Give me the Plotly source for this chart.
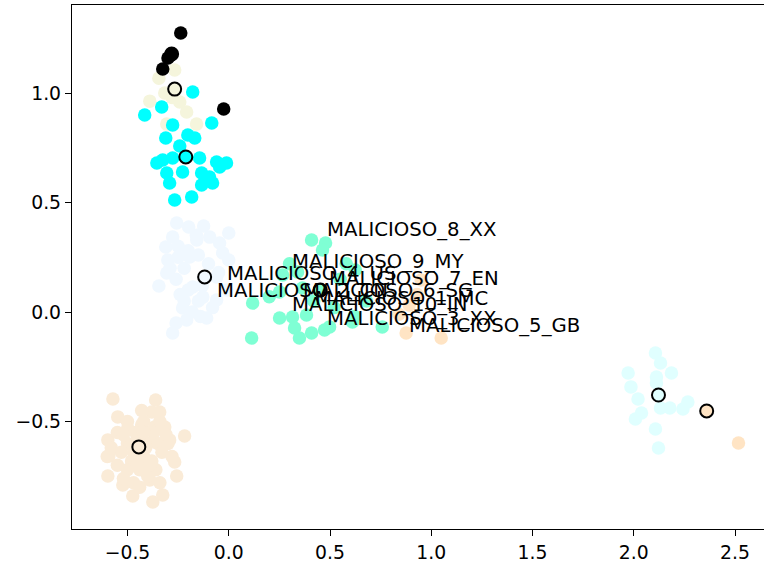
import plotly.graph_objects as go

# ---- data ----
aw_x = [-0.572,-0.361,-0.380,-0.341,-0.548,-0.499,-0.430,-0.366,-0.316,-0.218,-0.597,-0.292,-0.592,-0.267,-0.597,-0.257,-0.523,-0.390,-0.474,-0.326,-0.375,
        -0.45,-0.40,-0.50,-0.42,-0.48,-0.38,-0.53,-0.35,-0.44,-0.40,-0.50,-0.46,-0.37,-0.55,-0.33,-0.55,-0.47,-0.36,-0.30,-0.42,-0.60,
        -0.43,-0.50,-0.58,-0.52,-0.44,-0.34,-0.28,-0.31,-0.47,-0.41,-0.39,-0.45,-0.52,-0.34,-0.42]
aw_y = [-0.397,-0.402,-0.457,-0.457,-0.479,-0.530,-0.516,-0.525,-0.525,-0.566,-0.584,-0.584,-0.658,-0.685,-0.749,-0.749,-0.790,-0.767,-0.840,-0.836,-0.868,
        -0.58,-0.60,-0.60,-0.66,-0.68,-0.68,-0.64,-0.60,-0.72,-0.75,-0.72,-0.55,-0.55,-0.55,-0.64,-0.70,-0.78,-0.72,-0.60,-0.50,-0.66,
        -0.45,-0.50,-0.62,-0.76,-0.80,-0.78,-0.66,-0.56,-0.64,-0.62,-0.70,-0.70,-0.56,-0.50,-0.55]

lc_x = [2.107,2.132,1.972,2.186,2.112,2.112,1.986,2.021,2.267,2.243,2.178,2.132,2.038,2.008,2.107,2.122]
lc_y = [-0.187,-0.233,-0.279,-0.279,-0.297,-0.324,-0.342,-0.397,-0.411,-0.443,-0.438,-0.438,-0.461,-0.489,-0.534,-0.621]

be_x = [-0.345,-0.267,-0.316,-0.390,-0.242,-0.208,-0.306,-0.159,-0.28]
be_y = [1.068,1.105,1.000,0.963,0.959,0.913,0.858,0.858,0.98]

cy_x = [-0.178,-0.331,-0.415,-0.084,-0.277,-0.311,-0.202,-0.168,-0.242,-0.355,-0.326,-0.277,-0.144,-0.060,-0.011,
        -0.306,-0.228,-0.134,-0.095,-0.292,-0.134,-0.080,-0.267,-0.183,-0.045]
cy_y = [1.005,0.936,0.900,0.863,0.854,0.795,0.808,0.795,0.758,0.680,0.694,0.703,0.703,0.685,0.680,
        0.635,0.639,0.635,0.616,0.589,0.580,0.589,0.511,0.525,0.662]

bk_x = [-0.326,-0.237,-0.025,-0.30]
bk_y = [1.110,1.274,0.927,1.16]

ab_x = [-0.257,-0.198,-0.124,-0.277,-0.311,0.0,-0.301,-0.306,-0.345,-0.228,-0.208,-0.109,-0.277,-0.158,-0.094,-0.045,
        -0.193,0.0,-0.060,-0.178,-0.060,-0.128,-0.010,
        -0.25,-0.20,-0.15,-0.22,-0.26,-0.20,-0.15,-0.22,-0.18,-0.25,-0.10,-0.05,-0.13,-0.08,-0.14,-0.24,-0.29,-0.03,-0.16,-0.26]
ab_y = [0.406,0.388,0.393,0.342,0.297,0.361,0.237,0.178,0.119,0.018,-0.037,-0.027,-0.096,0.329,0.342,0.315,
        0.251,0.237,0.160,0.114,0.055,0.068,0.100,
        0.30,0.28,0.26,0.20,0.15,0.10,0.05,0.05,0.00,0.25,0.22,0.18,0.12,0.02,-0.02,0.08,0.20,0.27,0.35,-0.05]

aq_x = [0.409,0.478,0.463,0.266,0.340,0.118,0.251,0.364,0.251,0.315,0.384,0.325,0.409,0.473,0.498,0.113,0.349,0.758,0.611,
        0.625,0.58,0.30,0.42,0.55,0.68,0.52,0.20,0.62]
aq_y = [0.329,0.315,0.283,0.169,0.183,0.041,0.091,0.110,-0.027,-0.023,-0.014,-0.073,-0.096,-0.082,-0.068,-0.119,-0.119,-0.068,-0.046,
        0.192,0.22,0.22,0.05,0.15,0.05,0.02,0.07,-0.02]

bq_x = [2.517,0.950,0.891,0.876,1.049,0.84,0.93]
bq_y = [-0.598,0.146,0.032,-0.096,-0.119,-0.01,0.08]

cluster_colors = ["#FAEBD7", "#E0FFFF", "#F5F5DC", "#00FFFF", "#000000", "#F0F8FF", "#7FFFD4", "#FFE4C4"]
centroid_x = [-0.444, 2.122, -0.267, -0.212, -0.282, -0.119, 0.452, 2.360]
centroid_y = [-0.616, -0.379, 1.018, 0.708, 1.178, 0.160, 0.100, -0.452]

label_text = ["MALICIOSO_1_MC", "MALICIOSO_2_CN", "MALICIOSO_3_XX", "MALICIOSO_4_US", "MALICIOSO_5_GB",
              "MALICIOSO_6_SG", "MALICIOSO_7_EN", "MALICIOSO_8_XX", "MALICIOSO_9_MY", "MALICIOSO_10_IN"]
label_x = [0.428, -0.060, 0.487, -0.011, 0.891, 0.366, 0.497, 0.487, 0.314, 0.314]
label_y = [0.027, 0.064, -0.064, 0.142, -0.096, 0.064, 0.119, 0.342, 0.196, 0.0]

x_ticks = [-0.5, 0.0, 0.5, 1.0, 1.5, 2.0, 2.5]
y_ticks = [-0.5, 0.0, 0.5, 1.0]

# ---- figure ----
fig = go.Figure()
series = [(aw_x, aw_y, cluster_colors[0]), (lc_x, lc_y, cluster_colors[1]), (be_x, be_y, cluster_colors[2]),
          (cy_x, cy_y, cluster_colors[3]), (bk_x, bk_y, cluster_colors[4]), (ab_x, ab_y, cluster_colors[5]),
          (aq_x, aq_y, cluster_colors[6]), (bq_x, bq_y, cluster_colors[7])]
for xs, ys, c in series:
    fig.add_trace(go.Scatter(x=xs, y=ys, mode="markers",
                             marker=dict(size=13.5, color=c, line=dict(width=0)),
                             showlegend=False, hoverinfo="skip"))

fig.add_trace(go.Scatter(x=centroid_x, y=centroid_y, mode="markers",
                         marker=dict(size=13, color=cluster_colors, line=dict(width=2, color="black")),
                         showlegend=False, hoverinfo="skip"))

for t, lx, ly in zip(label_text, label_x, label_y):
    fig.add_annotation(x=lx, y=ly, text=t, showarrow=False, xanchor="left", yanchor="bottom",
                       xshift=-2, yshift=-6,
                       font=dict(family="DejaVu Sans", size=19.7, color="black"))

fig.update_layout(
    width=764, height=565,
    margin=dict(l=72, r=0, t=5, b=36),
    paper_bgcolor="white", plot_bgcolor="white",
    font=dict(family="DejaVu Sans", color="black"),
)
fig.update_xaxes(range=[-0.774, 2.643], tickvals=x_ticks, tickformat=".1f",
                 showgrid=False, zeroline=False, showline=True, linecolor="black", linewidth=1.3,
                 mirror=True, ticks="outside", ticklen=6, tickwidth=1.3, tickcolor="black",
                 tickfont=dict(size=18.8, family="DejaVu Sans", color="black"))
fig.update_yaxes(range=[-0.991, 1.402], tickvals=y_ticks, tickformat=".1f",
                 showgrid=False, zeroline=False, showline=True, linecolor="black", linewidth=1.3,
                 mirror=False, ticks="outside", ticklen=6, tickwidth=1.3, tickcolor="black",
                 tickfont=dict(size=18.8, family="DejaVu Sans", color="black"))

fig.write_html("out.html")
